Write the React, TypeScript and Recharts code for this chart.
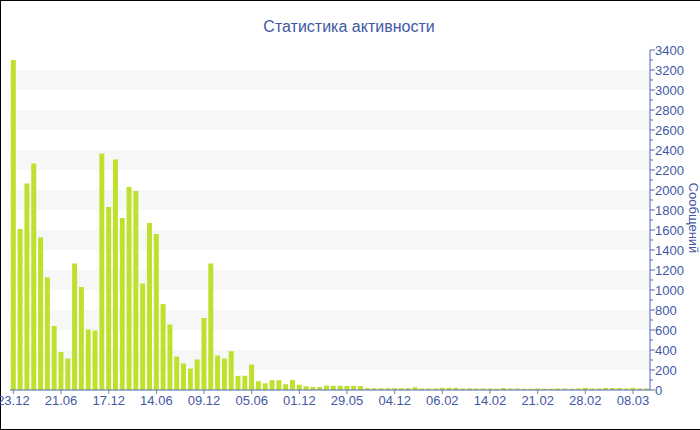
import { BarChart, Bar, XAxis, YAxis, ReferenceArea } from 'recharts';

// подписи оси X (каждый 7-й столбец)
const tickLabels = ['23.12', '21.06', '17.12', '14.06', '09.12', '05.06', '01.12', '29.05', '04.12', '06.02', '14.02', '21.02', '28.02', '08.03'];

// количество сообщений по периодам
const messages = [
  3300, 1610, 2065, 2265, 1525, 1125, 640, 380, 315, 1265,
  1030, 605, 595, 2365, 1830, 2305, 1720, 2030, 1990, 1065,
  1670, 1560, 860, 655, 335, 265, 215, 305, 720, 1265,
  345, 315, 388, 142, 143, 255, 88, 67, 98, 98,
  58, 100, 53, 38, 30, 30, 45, 42, 42, 40,
  42, 40, 18, 18, 18, 18, 18, 17, 18, 28,
  15, 15, 15, 22, 22, 22, 15, 17, 15, 15,
  15, 13, 20, 15, 15, 12, 12, 15, 12, 12,
  15, 15, 12, 15, 22, 15, 15, 20, 20, 20,
  15, 22, 15, 15,
];

const yMax = 3400;
const yTicks = Array.from({ length: yMax / 100 + 1 }, (_, i) => i * 100);
const bandStarts = [200, 600, 1000, 1400, 1800, 2200, 2600, 3000];

const FONT = "'Liberation Sans', Arial, sans-serif";
const TEXT = '#4358a5';
const AXIS = '#5068b0';

const data = messages.map((value, idx) => ({ idx, value }));
const xTicks = tickLabels.map((_, k) => k * 7);

const RightTick = (props: any) => {
  const { x, y, payload } = props;
  const major = payload.value % 200 === 0;
  return (
    <g>
      <line x1={x} x2={x + (major ? 5 : 3)} y1={y} y2={y} stroke={AXIS} />
      {major && (
        <text x={x + 5} y={y + 4.5} fill={TEXT} fontSize={13} fontFamily={FONT} textAnchor="start">
          {payload.value}
        </text>
      )}
    </g>
  );
};

export default function App() {
  return (
    <div style={{ position: 'fixed', left: 0, top: 0, width: 700, height: 430, overflow: 'hidden', background: '#fff' }}>
      <div
        style={{
          position: 'absolute',
          left: 0,
          top: 0,
          width: 720,
          height: 430,
          border: '1px solid #000',
          boxSizing: 'border-box',
        }}
      />
      <BarChart
        width={700}
        height={430}
        data={data}
        margin={{ top: 50, right: 0, bottom: 10, left: 10 }}
        barCategoryGap="12%"
        style={{ position: 'absolute', left: 0, top: 0 }}
      >
        {bandStarts.map((s) => (
          <ReferenceArea key={s} y1={s} y2={s + 200} fill="#f7f7f7" fillOpacity={1} stroke="none" />
        ))}
        <XAxis
          dataKey="idx"
          type="category"
          ticks={xTicks}
          interval={0}
          tickFormatter={(i) => tickLabels[Math.round(Number(i) / 7)]}
          height={30}
          tickSize={4}
          tickMargin={2}
          axisLine={{ stroke: AXIS }}
          tickLine={{ stroke: '#7a8294' }}
          tick={{ fill: TEXT, fontSize: 13, fontFamily: FONT }}
        />
        <YAxis
          orientation="right"
          width={50}
          domain={[0, yMax]}
          ticks={yTicks}
          interval={0}
          tickSize={0}
          tickMargin={0}
          tickLine={false}
          axisLine={{ stroke: AXIS }}
          tick={<RightTick />}
        />
        <Bar dataKey="value" fill="#bee12d" isAnimationActive={false} />
        <text x={349} y={31.5} textAnchor="middle" fill={TEXT} fontSize={16} fontFamily={FONT}>
          Статистика активности
        </text>
        <text
          x={689}
          y={218}
          textAnchor="middle"
          fill={TEXT}
          fontSize={13}
          fontFamily={FONT}
          transform="rotate(90, 689, 218)"
        >
          Сообщений
        </text>
      </BarChart>
    </div>
  );
}
